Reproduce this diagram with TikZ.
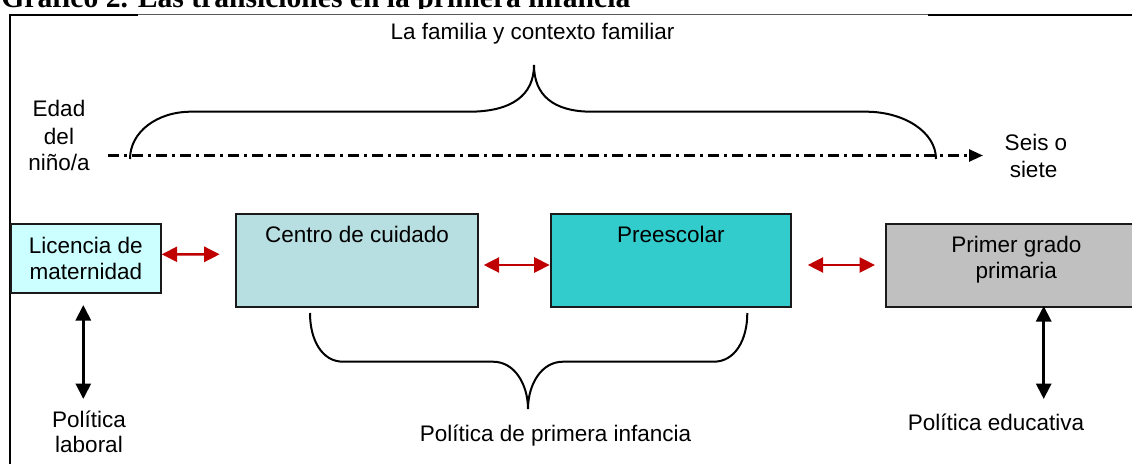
\documentclass[tikz,border=0pt]{standalone}
\usepackage{fontspec}
\setmainfont{Liberation Sans}
\newfontfamily\titlefont{Liberation Serif}
\usetikzlibrary{arrows.meta}
\definecolor{licfill}{HTML}{CCFFFF}
\definecolor{cenfill}{HTML}{B7DEE1}
\definecolor{prefill}{HTML}{33CCCC}
\definecolor{prifill}{HTML}{C0C0C0}
\definecolor{arrred}{HTML}{C00000}
\definecolor{edgecol}{HTML}{1A1A1A}
\begin{document}
\begin{tikzpicture}[x=1pt,y=-1pt,
  txt/.style={inner sep=0pt, anchor=base, font=\fontsize{22.5}{26}\selectfont},
  box/.style={draw=edgecol, line width=2pt, inner sep=0pt},
  redarr/.style={draw=arrred, line width=2.6pt, {Triangle[length=15.5pt,width=15pt]}-{Triangle[length=15.5pt,width=15pt]}},
  blkarr/.style={draw=black, line width=3pt, {Triangle[length=15.5pt,width=15pt]}-{Triangle[length=15.5pt,width=15pt]}},
  bracepath/.style={draw=black, line width=2pt},
  agearr/.style={draw=black, line width=2.5pt, dash pattern=on 11pt off 5pt on 3pt off 5pt, -{Triangle[length=14pt,width=12pt]}}
]
\useasboundingbox (0,0) rectangle (1132,463);

% title (clipped at top of page)
\begin{scope}
\clip (0,0) rectangle (1132,8);
\node[inner sep=0pt, anchor=base west, font=\titlefont\bfseries\fontsize{29.6}{30}\selectfont] (title) at (1.2,7.3) {Gráfico 2. Las transiciones en la primera infancia};
\end{scope}

% frame
\draw[line width=2pt, black] (9.5,470) -- (9.5,14.5) -- (138,14.5);
\draw[line width=1.6pt, black!65] (138,14.5) -- (928,14.5);
\draw[line width=2pt, black] (928,14.5) -- (1140,14.5);

% boxes
\node[box, fill=licfill, minimum width=150pt, minimum height=69.3pt] (lic) at (85.7,258.65) {};
\node[box, fill=cenfill, minimum width=242.6pt, minimum height=93pt] (cen) at (357,260.8) {};
\node[box, fill=prefill, minimum width=240pt, minimum height=93pt] (pre) at (670.7,260.8) {};
\node[box, fill=prifill, minimum width=260.6pt, minimum height=83.3pt] (pri) at (1016.3,265.65) {};

% texts
\node[txt] (licA) at (85.8,253) {Licencia de};
\node[txt] (licB) at (85.8,279) {maternidad};
\node[txt] (cenT) at (357,242.7) {Centro de cuidado};
\node[txt] (preT) at (670.8,242.7) {Preescolar};
\node[txt] (priA) at (1016.3,252.7) {Primer grado};
\node[txt] (priB) at (1016.3,278) {primaria};
\node[txt] (edA) at (59,116.7) {Edad};
\node[txt] (edB) at (59,144.3) {del};
\node[txt] (edC) at (59,170.7) {niño/a};
\node[txt] (seA) at (1036,150) {Seis o};
\node[txt] (seB) at (1033.5,177) {siete};
\node[txt] (fam) at (532.5,39.5) {La familia y contexto familiar};
\node[txt] (polA) at (89,427) {Política};
\node[txt] (polB) at (89,452) {laboral};
\node[txt] (pinf) at (555.5,441) {Política de primera infancia};
\node[txt] (pedu) at (996,430) {Política educativa};

% red transition arrows
\draw[redarr] ([yshift=4.35pt]lic.east) -- ([xshift=-15pt,yshift=6.5pt]cen.west);
\draw[redarr] ([xshift=4.4pt,yshift=-4.2pt]cen.east) -- ([yshift=-4.2pt]pre.west);
\draw[redarr] ([xshift=16pt,yshift=-4.2pt]pre.east) -- ([xshift=-10pt,yshift=0.65pt]pri.west);

% black policy arrows
\coordinate (labEnd) at (83.3,399);
\coordinate (eduEnd) at (1043.7,399);
\draw[blkarr] ([xshift=-2.4pt,yshift=-10.7pt]lic.south) -- (labEnd);
\draw[blkarr] ([xshift=27.4pt,yshift=2.3pt]pri.south) -- (eduEnd);

% age axis
\coordinate (ageS) at (108,155.5);
\coordinate (ageE) at (983,155.5);
\draw[agearr] (ageS) -- (ageE);

% top brace
\draw[bracepath] (130,159) .. controls (130,132) and (157,111.7) .. (191,111.7)
  -- (469,111.7) .. controls (512,111.7) and (534,95) .. (534,65)
  .. controls (534,95) and (553,111.7) .. (592,111.7)
  -- (866,111.7) .. controls (904,111.7) and (936,132) .. (936,159);

% bottom brace
\draw[bracepath] (310,313) .. controls (310,340) and (322,361.7) .. (343,361.7)
  -- (493,361.7) .. controls (515,361.7) and (528,385) .. (528,409)
  .. controls (528,385) and (541,361.7) .. (563,361.7)
  -- (713.7,361.7) .. controls (735,361.7) and (747.3,340) .. (747.3,313);
\end{tikzpicture}
\end{document}
